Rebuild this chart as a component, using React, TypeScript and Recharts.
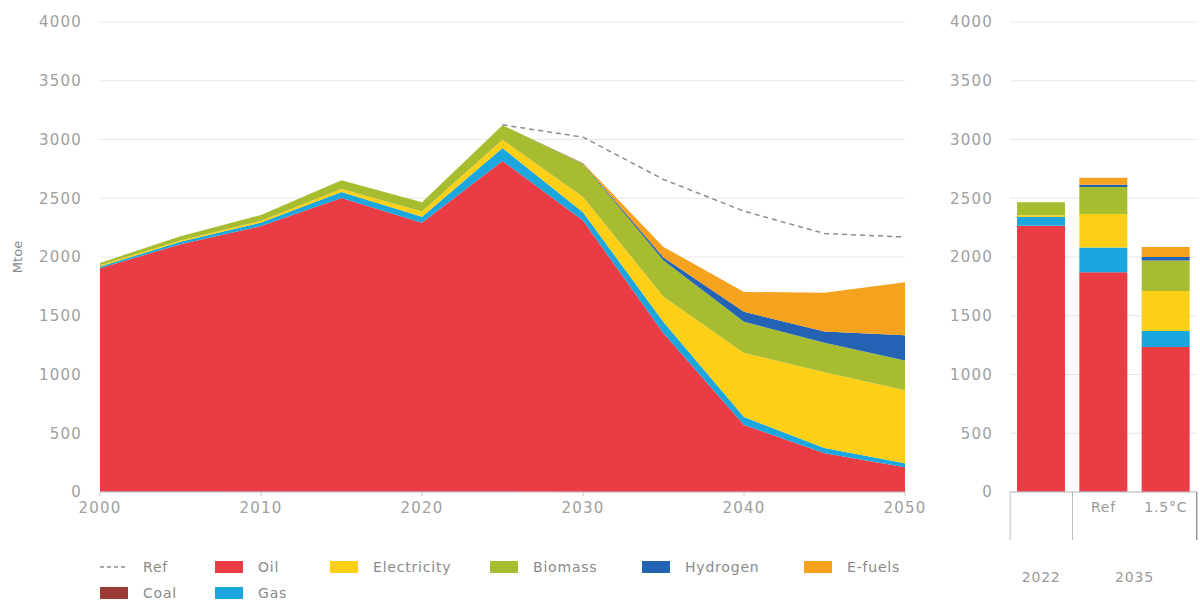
import { ComposedChart, Area, Line, BarChart, Bar, XAxis, YAxis, CartesianGrid, Label } from 'recharts';

const years = [2000, 2005, 2010, 2015, 2020, 2025, 2030, 2035, 2040, 2045, 2050];
const coal = [5, 4, 3, 3, 2, 2, 1, 1, 0, 0, 0];
const oil = [1900, 2105, 2260, 2500, 2290, 2815, 2310, 1350, 570, 330, 210];
const gas = [15, 20, 30, 50, 50, 110, 70, 95, 68, 45, 35];
const electricity = [10, 12, 15, 25, 45, 70, 130, 215, 545, 645, 620];
const biomass = [20, 35, 50, 75, 80, 125, 280, 310, 265, 250, 255];
const hydrogen = [0, 0, 0, 0, 0, 0, 5, 25, 85, 95, 215];
const efuels = [0, 0, 0, 0, 0, 0, 5, 90, 170, 330, 450];
const refLine = [null, null, null, null, null, 3125, 3020, 2660, 2390, 2200, 2170];

const barCats = ['2022', 'Ref', '1.5°C'];
const barCoal = [5, 5, 0];
const barOil = [2260, 1865, 1235];
const barGas = [75, 210, 135];
const barElec = [15, 285, 340];
const barBio = [110, 230, 260];
const barHyd = [0, 20, 30];
const barEfuel = [0, 60, 85];

const yTicks = [0, 500, 1000, 1500, 2000, 2500, 3000, 3500, 4000];
const xTicks = [2000, 2010, 2020, 2030, 2040, 2050];

const C = {
  coal: '#9b3a35',
  oil: '#e93c45',
  gas: '#1ba6de',
  elec: '#fdd017',
  bio: '#a8bc2f',
  hyd: '#2463b3',
  efuel: '#f5a21f',
  ref: '#8c8c8c',
};

const areaRows = years.map((y, i) => ({
  year: y,
  coal: coal[i],
  oil: oil[i],
  gas: gas[i],
  electricity: electricity[i],
  biomass: biomass[i],
  hydrogen: hydrogen[i],
  efuels: efuels[i],
  ref: refLine[i],
}));

const barRows = barCats.map((c, i) => ({
  cat: c,
  coal: barCoal[i],
  oil: barOil[i],
  gas: barGas[i],
  electricity: barElec[i],
  biomass: barBio[i],
  hydrogen: barHyd[i],
  efuels: barEfuel[i],
}));

const FONT = '"DejaVu Sans", sans-serif';
const tickStyle = { fill: '#a0a0a0', fontSize: 15, fontFamily: FONT, letterSpacing: 1.2 };

const HALF_BAND = 31;

function BarTick(props: any) {
  const { x, y, payload, index } = props;
  const t = { fill: '#9a9a9a', fontSize: 14, fontFamily: FONT, letterSpacing: 0.8 };
  return (
    <g>
      <text x={x} y={y + 20} textAnchor="middle" {...t}>{index === 0 ? '' : payload.value}</text>
      {index < 2 && <line x1={x - HALF_BAND} x2={x - HALF_BAND} y1={y} y2={y + 48} stroke="#bdbdbd" />}
      {index === 2 && <line x1={x + HALF_BAND} x2={x + HALF_BAND} y1={y} y2={y + 48} stroke="#666" />}
      {index === 0 && <text x={x} y={y + 90} textAnchor="middle" {...t}>2022</text>}
      {index === 1 && <text x={x + HALF_BAND} y={y + 90} textAnchor="middle" {...t}>2035</text>}
    </g>
  );
}

const legendItems = [
  { name: 'Ref', color: C.ref, dash: true, x: 100, y: 560 },
  { name: 'Oil', color: C.oil, x: 215, y: 560 },
  { name: 'Electricity', color: C.elec, x: 330, y: 560 },
  { name: 'Biomass', color: C.bio, x: 490, y: 560 },
  { name: 'Hydrogen', color: C.hyd, x: 642, y: 560 },
  { name: 'E-fuels', color: C.efuel, x: 804, y: 560 },
  { name: 'Coal', color: C.coal, x: 100, y: 586 },
  { name: 'Gas', color: C.gas, x: 215, y: 586 },
];

export default function App() {
  return (
    <div style={{ position: 'absolute', left: 0, top: 0, width: 1200, height: 601, background: '#fff', overflow: 'hidden' }}>
      <div style={{ position: 'absolute', left: 0, top: 0 }}>
        <ComposedChart width={930} height={530} data={areaRows} margin={{ top: 22, right: 25, left: 0, bottom: 8 }}>
          <CartesianGrid vertical={false} stroke="#e6e6e6" />
          <XAxis
            dataKey="year"
            type="number"
            domain={[2000, 2050]}
            ticks={xTicks}
            height={30}
            tick={tickStyle}
            tickSize={4}
            tickMargin={6}
            stroke="#c4c4c4"
          />
          <YAxis
            domain={[0, 4000]}
            ticks={yTicks}
            width={100}
            tick={tickStyle}
            tickSize={0}
            tickMargin={18}
            axisLine={false}
            tickLine={false}
          >
            <Label
              value="Mtoe"
              angle={-90}
              position="insideLeft"
              offset={17}
              style={{ fill: '#888', fontSize: 13, fontFamily: FONT, textAnchor: 'middle' }}
            />
          </YAxis>
          <Area type="linear" dataKey="coal" stackId="a" fill={C.coal} stroke="none" fillOpacity={1} isAnimationActive={false} />
          <Area type="linear" dataKey="oil" stackId="a" fill={C.oil} stroke="none" fillOpacity={1} isAnimationActive={false} />
          <Area type="linear" dataKey="gas" stackId="a" fill={C.gas} stroke="none" fillOpacity={1} isAnimationActive={false} />
          <Area type="linear" dataKey="electricity" stackId="a" fill={C.elec} stroke="none" fillOpacity={1} isAnimationActive={false} />
          <Area type="linear" dataKey="biomass" stackId="a" fill={C.bio} stroke="none" fillOpacity={1} isAnimationActive={false} />
          <Area type="linear" dataKey="hydrogen" stackId="a" fill={C.hyd} stroke="none" fillOpacity={1} isAnimationActive={false} />
          <Area type="linear" dataKey="efuels" stackId="a" fill={C.efuel} stroke="none" fillOpacity={1} isAnimationActive={false} />
          <Line type="linear" dataKey="ref" stroke={C.ref} strokeWidth={1.5} strokeDasharray="5 4" dot={false} isAnimationActive={false} />
        </ComposedChart>
      </div>

      <div style={{ position: 'absolute', left: 900, top: 0 }}>
        <BarChart width={300} height={601} data={barRows} margin={{ top: 22, right: 3, left: 0, bottom: 29 }} barSize={48}>
          <CartesianGrid vertical={false} stroke="#e6e6e6" />
          <XAxis dataKey="cat" height={80} tick={<BarTick />} tickSize={0} tickMargin={0} tickLine={false} stroke="#bdbdbd" interval={0} />
          <YAxis
            domain={[0, 4000]}
            ticks={yTicks}
            width={110}
            tick={tickStyle}
            tickSize={0}
            tickMargin={17}
            axisLine={false}
            tickLine={false}
          />
          <Bar dataKey="coal" stackId="b" fill={C.coal} isAnimationActive={false} />
          <Bar dataKey="oil" stackId="b" fill={C.oil} isAnimationActive={false} />
          <Bar dataKey="gas" stackId="b" fill={C.gas} isAnimationActive={false} />
          <Bar dataKey="electricity" stackId="b" fill={C.elec} isAnimationActive={false} />
          <Bar dataKey="biomass" stackId="b" fill={C.bio} isAnimationActive={false} />
          <Bar dataKey="hydrogen" stackId="b" fill={C.hyd} isAnimationActive={false} />
          <Bar dataKey="efuels" stackId="b" fill={C.efuel} isAnimationActive={false} />
        </BarChart>
      </div>

      {legendItems.map((it) => (
        <div key={it.name} style={{ position: 'absolute', left: it.x, top: it.y, display: 'flex', alignItems: 'center', height: 14 }}>
          {it.dash ? (
            <svg width={28} height={12}>
              <line x1={0} x2={28} y1={6} y2={6} stroke={it.color} strokeWidth={1.5} strokeDasharray="4 3" />
            </svg>
          ) : (
            <div style={{ width: 28, height: 12, background: it.color }} />
          )}
          <span style={{ marginLeft: 15, fontFamily: FONT, fontSize: 14, color: '#8a8a8a', letterSpacing: 0.8 }}>{it.name}</span>
        </div>
      ))}
    </div>
  );
}
